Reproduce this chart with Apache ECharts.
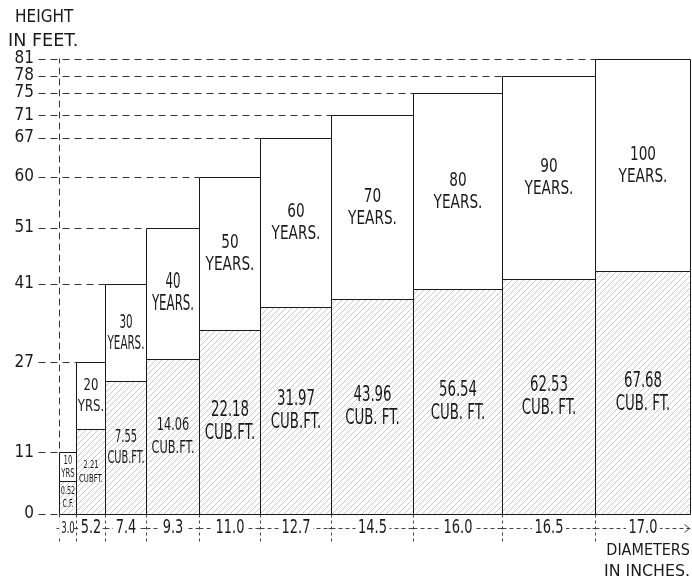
<!DOCTYPE html>
<html><head><meta charset="utf-8">
<script src="https://cdn.jsdelivr.net/npm/echarts@6/dist/echarts.min.js"></script>
<style>html,body{margin:0;padding:0;background:#fff}#c{width:692px;height:581px}</style>
</head><body><div id="c"></div>
<script>
// ---- data ----
const years = [10, 20, 30, 40, 50, 60, 70, 80, 90, 100];
const diameters = [3.0, 5.2, 7.4, 9.3, 11.0, 12.7, 14.5, 16.0, 16.5, 17.0];
const heights = [11, 27, 41, 51, 60, 67, 71, 75, 78, 81];
const volumes = [0.52, 2.21, 7.55, 14.06, 22.18, 31.97, 43.96, 56.54, 62.53, 67.68];
const hatchHeights = [5.8, 15.1, 23.7, 27.6, 32.7, 36.8, 38.2, 40.0, 41.8, 43.3];
const yearLabels = ['10\nYRS', '20\nYRS.', '30\nYEARS.', '40\nYEARS.', '50\nYEARS.', '60\nYEARS.', '70\nYEARS.', '80\nYEARS.', '90\nYEARS.', '100\nYEARS.'];
const volumeLabels = ['0.52\nC.F.', '2.21\nCUBFT.', '7.55\nCUB.FT.', '14.06\nCUB.FT.', '22.18\nCUB.FT.', '31.97\nCUB.FT.', '43.96\nCUB. FT.', '56.54\nCUB. FT.', '62.53\nCUB. FT.', '67.68\nCUB. FT.'];
const diameterLabels = ['3.0', '5.2', '7.4', '9.3', '11.0', '12.7', '14.5', '16.0', '16.5', '17.0'];
const heightTicks = [0, 11, 27, 41, 51, 60, 67, 71, 75, 78, 81];

// ---- build ----
const FONT = '"DejaVu Sans Condensed", "Liberation Sans", sans-serif';
const starts = []; let acc = 0;
diameters.forEach(d => { starts.push(acc); acc += d; });
const total = acc;

const pat = document.createElement('canvas');
pat.width = 6; pat.height = 6;
const g = pat.getContext('2d');
g.strokeStyle = 'rgba(115,115,115,0.55)'; g.lineWidth = 0.7;
g.beginPath(); g.moveTo(-1, 7); g.lineTo(7, -1); g.stroke();
g.beginPath(); g.moveTo(-1, 1); g.lineTo(1, -1); g.stroke();
g.beginPath(); g.moveTo(5, 7); g.lineTo(7, 5); g.stroke();

const AX_OFFSET = 21;
const DASH = [7, 5];
const INK = '#1a1a1a';

// text styles by bar pixel width: [fontSize, scaleX, scaleY, lineHeight]
function textStyles(w) {
  if (w < 20) return {yr: [9, 0.85, 1.3, 10], vol: [9, 0.8, 1.2, 11]};
  if (w < 35) return {yr: [13, 1.0, 1.27, 16.5], vol: [9, 0.85, 1.2, 12]};
  if (w < 45) return {yr: [14, 0.82, 1.4, 15], vol: [14, 0.78, 1.27, 17]};
  if (w < 56) return {yr: [16, 0.82, 1.28, 17], vol: [16, 0.79, 1.12, 20]};
  return {yr: [19, 0.8, 1.06, 21], vol: [19, 0.78, 1.08, 21]};
}

function label(text, x, y, st, extra) {
  return {
    type: 'text', x: x, y: y, scaleX: st[1], scaleY: st[2],
    style: Object.assign({text: text, x: 0, y: 0, align: 'center', verticalAlign: 'middle',
      font: st[0] + 'px ' + FONT, lineHeight: st[3], fill: INK}, extra || {})
  };
}

function renderItem(params, api) {
  const i = api.value(4);
  const p0 = api.coord([api.value(0), 0]);
  const p1 = api.coord([api.value(1), api.value(2)]);
  const ph = api.coord([api.value(0), api.value(3)]);
  const x0 = Math.round(p0[0]) + 0.5, x1 = Math.round(p1[0]) + 0.5;
  const yb = Math.round(p0[1]) + 0.5, yt = Math.round(p1[1]) + 0.5, yh = Math.round(ph[1]) + 0.5;
  const w = x1 - x0;
  const axisX = Math.round(api.coord([0, 0])[0]) - AX_OFFSET + 0.5;
  const ts = textStyles(w);
  const ch = [];
  ch.push({type: 'line', shape: {x1: axisX, y1: yt, x2: x0, y2: yt}, style: {stroke: '#333', lineWidth: 1, lineDash: DASH}});
  if (i === 0) ch.push({type: 'line', shape: {x1: axisX, y1: yb, x2: x0, y2: yb}, style: {stroke: '#333', lineWidth: 1, lineDash: DASH}});
  ch.push({type: 'rect', shape: {x: x0, y: yh, width: w, height: yb - yh}, style: {fill: {image: pat, repeat: 'repeat'}, stroke: INK, lineWidth: 1}});
  ch.push({type: 'rect', shape: {x: x0, y: yt, width: w, height: yh - yt}, style: {fill: '#fff', stroke: INK, lineWidth: 1}});
  ch.push(label(yearLabels[i], (x0 + x1) / 2, (yt + yh) / 2, ts.yr));
  ch.push(label(volumeLabels[i], (x0 + x1) / 2, (yh + yb) / 2, ts.vol));
  const yl = yb + 14;
  ch.push({type: 'line', shape: {x1: x0, y1: yl, x2: x1, y2: yl}, style: {stroke: '#444', lineWidth: 1, lineDash: [4, 3]}});
  ch.push({type: 'line', shape: {x1: x0, y1: yb, x2: x0, y2: yb + 27}, style: {stroke: '#444', lineWidth: 1, lineDash: [3, 3]}});
  ch.push({type: 'line', shape: {x1: x0 - 3, y1: yl, x2: x0 + 3, y2: yl}, style: {stroke: '#444', lineWidth: 1}});
  if (i === years.length - 1) {
    ch.push({type: 'polyline', shape: {points: [[x1 - 6, yl - 4], [x1 - 1, yl], [x1 - 6, yl + 4]]}, style: {stroke: '#444', lineWidth: 1, fill: 'none'}});
  }
  const xs = w < 20 ? [14, 0.68, 1.15, 14] : [17, 0.85, 1.12, 17];
  ch.push(label(diameterLabels[i], (x0 + x1) / 2, yl, xs, {backgroundColor: '#fff', padding: [0, 3]}));
  return {type: 'group', children: ch};
}

const chart = echarts.init(document.getElementById('c'), null, {renderer: 'canvas'});
chart.setOption({
  animation: false,
  backgroundColor: '#fff',
  grid: {left: 59, right: 2, top: 59, bottom: 67},
  xAxis: {type: 'value', min: 0, max: total, show: false},
  yAxis: {
    type: 'value', min: 0, max: 81, offset: AX_OFFSET,
    axisLine: {show: true, lineStyle: {type: [6, 5], color: '#333', width: 1}},
    axisTick: {show: false}, splitLine: {show: false},
    axisLabel: {customValues: heightTicks, fontSize: 17, lineHeight: 15, fontFamily: '"DejaVu Sans Condensed", sans-serif', color: INK, margin: 4, hideOverlap: false}
  },
  graphic: [
    {type: 'text', left: 15, top: 9, style: {text: 'HEIGHT', font: '17px "DejaVu Sans Condensed", sans-serif', fill: INK}},
    {type: 'text', x: 8, y: 33, scaleX: 1.15, style: {text: 'IN FEET.', font: '17px "DejaVu Sans Condensed", sans-serif', fill: INK}},
    {type: 'text', right: 2, top: 543, style: {text: 'DIAMETERS', font: '16px "DejaVu Sans Condensed", sans-serif', fill: INK}},
    {type: 'text', x: 604, y: 564, scaleX: 1.1, style: {text: 'IN INCHES.', font: '16px "DejaVu Sans Condensed", sans-serif', fill: INK}}
  ],
  series: [{
    type: 'custom',
    clip: false,
    renderItem: renderItem,
    encode: {x: [0, 1], y: [2, 3]},
    data: years.map((y, i) => [starts[i], starts[i] + diameters[i], heights[i], hatchHeights[i], i])
  }]
});
</script>
</body></html>
